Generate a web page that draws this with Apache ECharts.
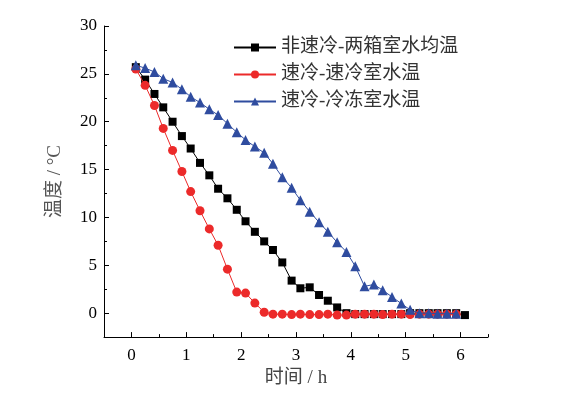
<!DOCTYPE html>
<html><head><meta charset="utf-8">
<script src="https://cdn.jsdelivr.net/npm/echarts@6/dist/echarts.min.js"></script>
<style>html,body{margin:0;padding:0;background:#fff}#c{width:563px;height:393px}</style>
</head><body><div id="c"></div>
<script>
var seriesNames = ['非速冷-两箱室水均温', '速冷-速冷室水温', '速冷-冷冻室水温'];
var xTicks = [0,1,2,3,4,5,6];
var xMinorTicks = [-0.5,0.5,1.5,2.5,3.5,4.5,5.5,6.5];
var yTicks = [0,5,10,15,20,25,30];
var yMinorTicks = [-2.5,2.5,7.5,12.5,17.5,22.5,27.5];
var timeH = [0.08,0.25,0.42,0.58,0.75,0.92,1.08,1.25,1.42,1.58,1.75,1.92,2.08,2.25,2.42,2.58,2.75,2.92,3.08,3.25,3.42,3.58,3.75,3.92,4.08,4.25,4.42,4.58,4.75,4.92,5.08,5.25,5.42,5.58,5.75,5.92,6.08];
var blackVals = [25.7,24.4,22.9,21.5,20.0,18.5,17.2,15.7,14.4,13.0,12.0,10.8,9.6,8.5,7.5,6.6,5.3,3.4,2.6,2.7,1.9,1.3,0.6,0.0,-0.1,-0.1,-0.1,-0.1,-0.1,-0.1,0.0,0.0,0.0,0.0,0.0,0.0,-0.2];
var redVals = [25.5,23.8,21.7,19.3,17.0,14.8,12.7,10.7,8.8,7.1,4.6,2.2,2.1,1.05,0.1,-0.1,-0.1,-0.15,-0.1,-0.15,-0.15,-0.1,-0.2,-0.2,-0.1,-0.1,-0.1,-0.15,-0.1,-0.1,-0.15,-0.1,-0.1,-0.1,-0.1,-0.1];
var blueVals = [25.9,25.6,25.2,24.5,24.1,23.4,22.6,22.0,21.3,20.7,19.8,18.9,18.1,17.4,16.75,15.6,14.2,13.1,11.8,10.6,9.5,8.5,7.4,6.4,4.9,2.8,3.0,2.4,1.7,1.0,0.35,0.0,0.0,-0.05,-0.05,-0.05];

function pairs(vals){ return vals.map(function(v,i){ return [timeH[i], v]; }); }
var serifFont = '"Liberation Serif","Noto Sans CJK SC",serif';
var tickColor = '#000';
function mainAxis(min,max,ticks,name,nameGap,margin,nameColor){
  return {
    type:'value', min:min, max:max, gridIndex:0,
    name:name, nameLocation:'middle', nameGap:nameGap,
    nameTextStyle:{fontFamily:serifFont, fontSize:19, color:nameColor},
    axisLine:{show:true,onZero:false,lineStyle:{color:tickColor,width:1}},
    axisTick:{show:true,inside:true,length:5,customValues:ticks,lineStyle:{color:tickColor}},
    splitLine:{show:false},
    axisLabel:{margin:margin,fontFamily:serifFont,fontSize:17,color:'#000',customValues:ticks}
  };
}
function minorAxis(min,max,ticks,pos){
  return {
    type:'value', min:min, max:max, gridIndex:0, position:pos, offset:0,
    axisLine:{show:false,onZero:false},
    axisTick:{show:true,inside:true,length:3,customValues:ticks,lineStyle:{color:tickColor}},
    axisLabel:{show:false}, splitLine:{show:false}
  };
}
var chart = echarts.init(document.getElementById('c'));
var xMain = mainAxis(-0.5,6.5,xTicks,'时间 / h',30,10,'#444'); xMain.position='bottom';
var yMain = mainAxis(-2.5,30,yTicks,'温度 / °C',39,7,'#555'); yMain.position='left';
chart.setOption({
  animation:false,
  grid:{left:104,right:75,top:26,bottom:55,containLabel:false},
  legend:{
    orient:'vertical', left:228, top:33, itemWidth:42, itemHeight:10, itemGap:8,
    textStyle:{fontFamily:serifFont, fontSize:19, lineHeight:19, color:'#333'},
    data:seriesNames
  },
  xAxis:[xMain, minorAxis(-0.5,6.5,xMinorTicks,'bottom')],
  yAxis:[yMain, minorAxis(-2.5,30,yMinorTicks,'left')],
  series:[
    {name:seriesNames[0], type:'line', data:pairs(blackVals), symbol:'rect', symbolSize:8,
      lineStyle:{color:'#000',width:1}, itemStyle:{color:'#000'}, z:2},
    {name:seriesNames[1], type:'line', data:pairs(redVals), symbol:'circle', symbolSize:9,
      lineStyle:{color:'#ec2a2a',width:1}, itemStyle:{color:'#ec2a2a'}, z:3},
    {name:seriesNames[2], type:'line', data:pairs(blueVals), symbol:'triangle', symbolSize:10,
      lineStyle:{color:'#2f4c9f',width:1}, itemStyle:{color:'#2f4c9f'}, z:4}
  ]
});
</script></body></html>
